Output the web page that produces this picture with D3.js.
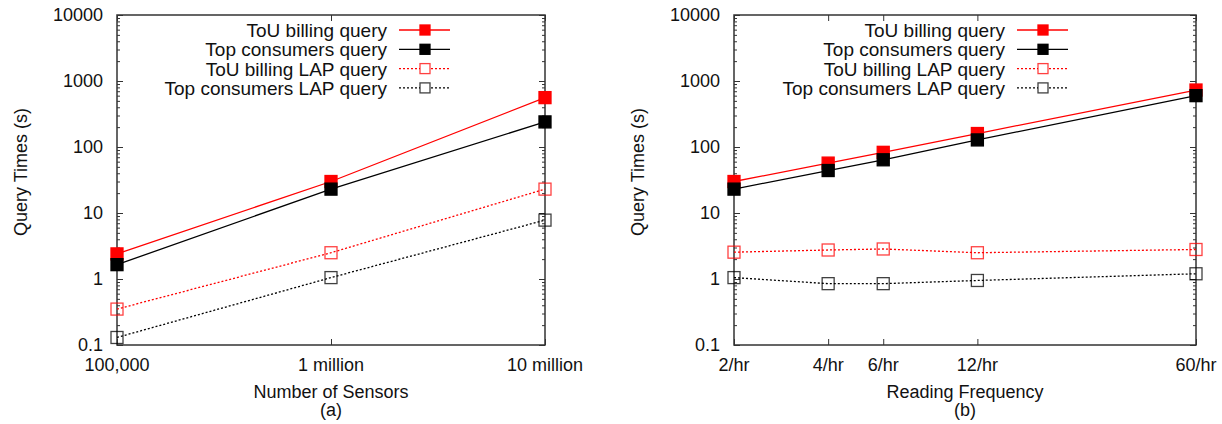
<!DOCTYPE html>
<html>
<head>
<meta charset="utf-8">
<script src="https://cdn.jsdelivr.net/npm/d3@7"></script>
<style>
  body { margin: 0; background: #fff; }
  svg text { font-family: "Liberation Sans", Arial, sans-serif; font-size: 18px; fill: #111; }
  svg text.leg { font-size: 19px; }
</style>
</head>
<body>
<svg id="chart" width="1222" height="424"></svg>
<script>
// 데이터
const sensors = [1e5, 1e6, 1e7];
const sensorLabels = ['100,000', '1 million', '10 million'];
const freqs = [2, 4, 6, 12, 60];
const freqLabels = ['2/hr', '4/hr', '6/hr', '12/hr', '60/hr'];
const yTicks = [0.1, 1, 10, 100, 1000, 10000];

const seriesNames = ['ToU billing query', 'Top consumers query', 'ToU billing LAP query', 'Top consumers LAP query'];

const touA = [2.4, 30, 560];
const topA = [1.65, 23, 240];
const touLapA = [0.35, 2.5, 23];
const topLapA = [0.13, 1.05, 7.8];

const touB = [30, 57, 83, 160, 730];
const topB = [23, 44, 64, 128, 600];
const touLapB = [2.55, 2.75, 2.85, 2.5, 2.8];
const topLapB = [1.05, 0.85, 0.85, 0.95, 1.2];

const styles = [
  {color: '#ff0000', dash: null, fill: true},
  {color: '#000000', dash: null, fill: true},
  {color: '#ff0000', dash: '2,2', fill: false},
  {color: '#000000', dash: '2,2', fill: false}
];

const svg = d3.select('#chart');

function drawPanel(p) {
  const x = d3.scaleLog().domain(p.xDomain).range([p.left, p.right]);
  const y = d3.scaleLog().domain([0.1, 10000]).range([345, 15]);
  const g = svg.append('g');

  // 축 눈금 (안쪽으로)
  const minor = [];
  yTicks.slice(0, -1).forEach(t => { for (let k = 2; k <= 9; k++) minor.push(t * k); });

  g.append('g').attr('transform', `translate(${p.left},0)`)
    .call(d3.axisRight(y).tickValues(yTicks).tickSize(6).tickFormat(''))
    .call(g => g.select('.domain').remove());
  g.append('g').attr('transform', `translate(${p.left},0)`)
    .call(d3.axisRight(y).tickValues(minor).tickSize(3).tickFormat(''))
    .call(g => g.select('.domain').remove());
  g.append('g').attr('transform', `translate(${p.right},0)`)
    .call(d3.axisLeft(y).tickValues(yTicks).tickSize(6).tickFormat(''))
    .call(g => g.select('.domain').remove());
  g.append('g').attr('transform', `translate(${p.right},0)`)
    .call(d3.axisLeft(y).tickValues(minor).tickSize(3).tickFormat(''))
    .call(g => g.select('.domain').remove());
  g.append('g').attr('transform', 'translate(0,345)')
    .call(d3.axisTop(x).tickValues(p.xs).tickSize(6).tickFormat(''))
    .call(g => g.select('.domain').remove());
  g.append('g').attr('transform', 'translate(0,15)')
    .call(d3.axisBottom(x).tickValues(p.xs).tickSize(6).tickFormat(''))
    .call(g => g.select('.domain').remove());
  g.selectAll('.tick line').attr('stroke', '#333');

  // 눈금 라벨
  g.selectAll('.ylab').data(yTicks).enter().append('text')
    .attr('x', p.left - 14).attr('y', d => y(d) + 6)
    .attr('text-anchor', 'end').text(d => d3.format('')(d));
  g.selectAll('.xlab').data(p.xs).enter().append('text')
    .attr('x', d => x(d)).attr('y', 371)
    .attr('text-anchor', 'middle').text((d, i) => p.xLabels[i]);

  // 테두리
  g.append('rect').attr('x', p.left).attr('y', 15)
    .attr('width', p.right - p.left).attr('height', 330)
    .attr('fill', 'none').attr('stroke', '#333').attr('stroke-width', 1.5);

  // 축 제목
  g.append('text').attr('transform', `translate(${p.left - 90},172) rotate(-90)`)
    .attr('text-anchor', 'middle').text('Query Times (s)');
  g.append('text').attr('x', (p.left + p.right) / 2).attr('y', 398)
    .attr('text-anchor', 'middle').text(p.xTitle);
  g.append('text').attr('x', (p.left + p.right) / 2).attr('y', 416)
    .attr('text-anchor', 'middle').text(p.sub);

  // 선과 마커
  const line = d3.line().x(d => x(d[0])).y(d => y(d[1]));
  p.series.forEach((vals, i) => {
    const st = styles[i];
    const pts = p.xs.map((v, j) => [v, vals[j]]);
    g.append('path').datum(pts).attr('d', line)
      .attr('fill', 'none').attr('stroke', st.color).attr('stroke-width', 1.3)
      .attr('stroke-dasharray', st.dash);
    g.selectAll(null).data(pts).enter().append('rect')
      .attr('x', d => x(d[0]) - 6).attr('y', d => y(d[1]) - 6)
      .attr('width', 12).attr('height', 12)
      .attr('fill', st.fill ? st.color : 'none')
      .attr('stroke', st.color).attr('stroke-width', 1.3)
      .attr('stroke-opacity', st.fill ? 1 : 0.75);
  });

  // 범례
  seriesNames.forEach((name, i) => {
    const st = styles[i];
    const ly = 30 + i * 19.3;
    g.append('text').attr('class', 'leg').attr('x', p.legX).attr('y', ly + 7)
      .attr('text-anchor', 'end').text(name);
    g.append('line').attr('x1', p.legX + 12).attr('x2', p.legX + 63)
      .attr('y1', ly).attr('y2', ly)
      .attr('stroke', st.color).attr('stroke-width', 1.3)
      .attr('stroke-dasharray', st.dash);
    g.append('rect').attr('x', p.legX + 33).attr('y', ly - 5)
      .attr('width', 10).attr('height', 10)
      .attr('fill', st.fill ? st.color : '#fff')
      .attr('stroke', st.color).attr('stroke-width', 1.3)
      .attr('stroke-opacity', st.fill ? 1 : 0.75);
  });
}

drawPanel({
  left: 117, right: 545, xDomain: [1e5, 1e7], xs: sensors, xLabels: sensorLabels,
  xTitle: 'Number of Sensors', sub: '(a)', legX: 387,
  series: [touA, topA, touLapA, topLapA]
});
drawPanel({
  left: 734, right: 1196, xDomain: [2, 60], xs: freqs, xLabels: freqLabels,
  xTitle: 'Reading Frequency', sub: '(b)', legX: 1005,
  series: [touB, topB, touLapB, topLapB]
});
</script>
</body>
</html>
